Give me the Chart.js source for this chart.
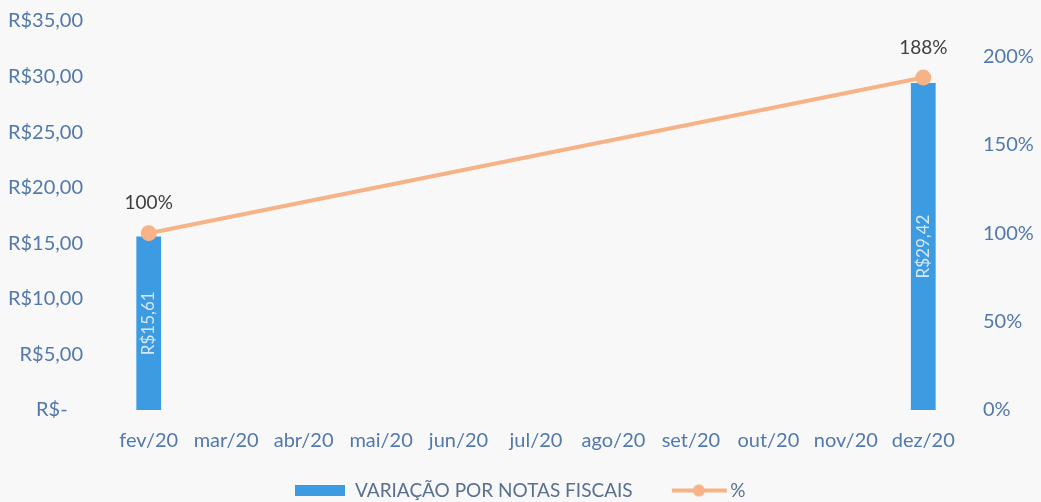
<!DOCTYPE html>
<html>
<head>
<meta charset="utf-8">
<script src="https://cdn.jsdelivr.net/npm/chart.js@4.4.1/dist/chart.umd.min.js"></script>
<style>
  html, body { margin: 0; padding: 0; background: #f8f8f8; }
</style>
</head>
<body>
<canvas id="grafico" width="1041" height="502"></canvas>
<script>
const categorias = ['fev/20', 'mar/20', 'abr/20', 'mai/20', 'jun/20', 'jul/20', 'ago/20', 'set/20', 'out/20', 'nov/20', 'dez/20'];
const valores = [15.61, null, null, null, null, null, null, null, null, null, 29.42];
const percentuais = [100, null, null, null, null, null, null, null, null, null, 188];
const ticksPercentuais = [0, 50, 100, 150, 200];

const corBarra = '#3d9be1';
const corLinha = '#f5b387';
const corEixo = '#5279ab';

function formatoReal(v) {
  if (v === 0) return 'R$-   ';
  return 'R$' + v.toFixed(2).replace('.', ',');
}

function icone(w, h, desenha) {
  const c = document.createElement('canvas');
  c.width = w;
  c.height = h;
  desenha(c.getContext('2d'));
  return c;
}

const iconeBarra = icone(50, 11, g => {
  g.fillStyle = corBarra;
  g.fillRect(0, 0, 50, 11);
});
const iconeLinha = icone(64, 14, g => {
  g.strokeStyle = corLinha;
  g.lineWidth = 4;
  g.beginPath();
  g.moveTo(8, 7);
  g.lineTo(63, 7);
  g.stroke();
  g.fillStyle = corLinha;
  g.beginPath();
  g.arc(35, 7, 6, 0, Math.PI * 2);
  g.fill();
});

// rótulos das barras (girados) e dos pontos
const rotulos = {
  id: 'rotulos',
  afterDatasetsDraw(chart) {
    const ctx = chart.ctx;
    ctx.save();
    ctx.textAlign = 'center';
    ctx.textBaseline = 'middle';
    ctx.font = '17px Lato';
    ctx.fillStyle = '#d6e7f6';
    chart.getDatasetMeta(1).data.forEach((b, i) => {
      if (valores[i] == null) return;
      ctx.save();
      ctx.translate(b.x, (b.y + b.base) / 2);
      ctx.rotate(-Math.PI / 2);
      ctx.fillText(formatoReal(valores[i]), 0, 0);
      ctx.restore();
    });
    ctx.font = '19px Lato';
    ctx.fillStyle = '#404040';
    chart.getDatasetMeta(0).data.forEach((p, i) => {
      if (percentuais[i] == null) return;
      ctx.fillText(percentuais[i] + '%', p.x, p.y - 30);
    });
    ctx.restore();
  }
};

// o padding dos ticks verticais não deve empurrar a área do gráfico
function ajustaEixo(largura) {
  return scale => {
    scale.width = largura;
    scale.paddingTop = 0;
    scale.paddingBottom = 0;
  };
}

const ctx = document.getElementById('grafico').getContext('2d');
new Chart(ctx, {
  type: 'bar',
  data: {
    labels: categorias,
    datasets: [{
      type: 'line',
      label: '%',
      data: percentuais,
      yAxisID: 'y1',
      borderColor: corLinha,
      backgroundColor: corLinha,
      borderWidth: 4,
      pointRadius: 6,
      pointHoverRadius: 6,
      spanGaps: true,
      order: 0
    }, {
      label: 'VARIAÇÃO POR NOTAS FISCAIS',
      data: valores,
      yAxisID: 'y',
      backgroundColor: corBarra,
      barPercentage: 0.32,
      categoryPercentage: 1,
      order: 1
    }]
  },
  options: {
    responsive: false,
    animation: false,
    layout: { padding: { top: 21, bottom: -8 } },
    scales: {
      x: {
        grid: { display: false, drawTicks: false },
        border: { display: false },
        ticks: { color: corEixo, font: { family: 'Lato', size: 20 }, padding: 19, maxRotation: 0, autoSkip: false }
      },
      y: {
        position: 'left',
        min: 0,
        max: 35,
        grid: { display: false, drawTicks: false },
        border: { display: false },
        afterFit: ajustaEixo(110),
        ticks: {
          stepSize: 5,
          color: corEixo,
          font: { family: 'Lato', size: 20 },
          padding: 27,
          callback: v => formatoReal(v)
        }
      },
      y1: {
        position: 'right',
        min: 0,
        max: 220,
        grid: { display: false, drawTicks: false },
        border: { display: false },
        afterFit: ajustaEixo(79),
        afterBuildTicks(scale) {
          scale.ticks = ticksPercentuais.map(v => ({ value: v }));
        },
        ticks: {
          color: corEixo,
          font: { family: 'Lato', size: 20 },
          padding: 21,
          callback: v => v + '%'
        }
      }
    },
    plugins: {
      tooltip: { enabled: false },
      legend: {
        position: 'bottom',
        labels: {
          usePointStyle: true,
          pointStyleWidth: 50,
          padding: 9,
          color: '#5a7090',
          font: { family: 'Lato', size: 19 },
          generateLabels() {
            return [
              { text: 'VARIAÇÃO POR NOTAS FISCAIS      ', pointStyle: iconeBarra, datasetIndex: 1, hidden: false, lineWidth: 0, fontColor: '#5a7090' },
              { text: '%', pointStyle: iconeLinha, datasetIndex: 0, hidden: false, lineWidth: 0, fontColor: '#5a7090' }
            ];
          }
        }
      }
    }
  },
  plugins: [rotulos]
});
</script>
</body>
</html>
